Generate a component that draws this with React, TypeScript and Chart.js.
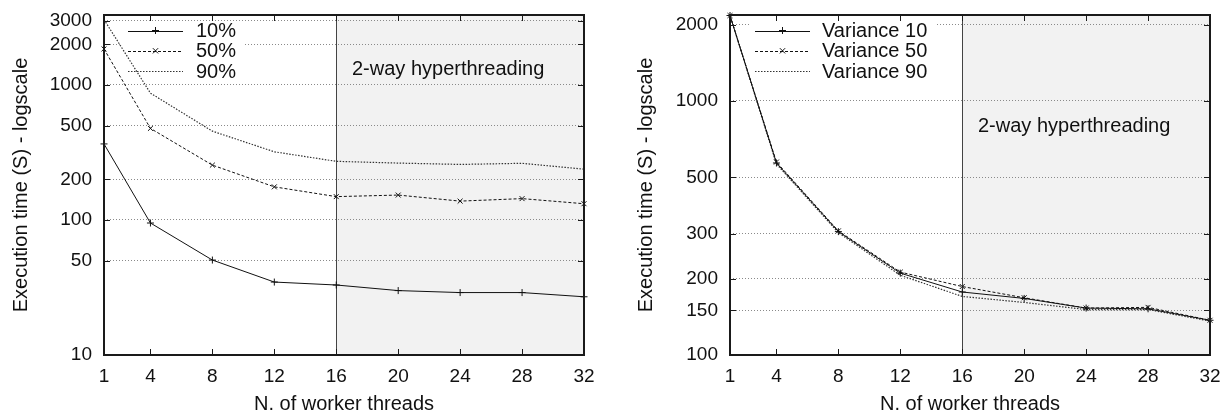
import React, { useEffect, useRef } from "react";
import { Chart, registerables } from "chart.js";

Chart.register(...registerables);

// ---------- data ----------
const threads = [1, 4, 8, 12, 16, 20, 24, 28, 32];
const xTicks = [1, 4, 8, 12, 16, 20, 24, 28, 32];

const leftLabels = ["10%", "50%", "90%"];
const left10 = [366, 95, 50.5, 34.7, 33, 30, 29, 29, 27];
const left50 = [1850, 477, 255, 176, 149, 153, 138, 144, 132];
const left90 = [3050, 870, 455, 320, 272, 264, 258, 263, 238];
const leftYTicks = [10, 50, 100, 200, 500, 1000, 2000, 3000];
const leftYMin = 10;
const leftYMax = 3300;

const rightLabels = ["Variance 10", "Variance 50", "Variance 90"];
const rightV10 = [2170, 570, 306, 210, 177, 167, 153, 152, 137];
const rightV50 = [2170, 575, 308, 212, 186, 168, 153, 154, 137];
const rightV90 = [2170, 565, 303, 206, 170, 161, 151, 151, 136];
const rightYTicks = [100, 150, 200, 300, 500, 1000, 2000];
const rightYMin = 100;
const rightYMax = 2180;

const htStart = 16;
const htEnd = 32;
const htLabel = "2-way hyperthreading";
const xTitle = "N. of worker threads";
const yTitle = "Execution time (S) - logscale";

const FONT = "'Liberation Sans', Arial, Helvetica, sans-serif";
const INK = "#111";
const FRAME = "#1a1a1a";

type PanelCfg = {
  width: number;
  yAxisWidth: number;
  padRight: number;
  yTitlePad: number;
  labels: string[];
  series: number[][];
  yTicks: number[];
  yMin: number;
  yMax: number;
  legendX: number;
  legendTextX: number;
  legendBox: [number, number, number, number];
  htLabelY: number;
};

const styles = [
  { dash: [] as number[], point: "cross", radius: 3.5, width: 1, color: INK },
  { dash: [3, 2], point: "crossRot", radius: 3.5, width: 1, color: INK },
  { dash: [1.5, 1.5], point: "circle", radius: 0, width: 1.2, color: "#333" },
];

function drawFrame(chart: any, yTicks: number[]) {
  const ctx = chart.ctx;
  const a = chart.chartArea;
  const xs = chart.scales.x;
  const ys = chart.scales.y;
  const L = Math.round(a.left);
  const R = Math.round(a.right);
  const T = Math.round(a.top);
  const B = Math.round(a.bottom);
  ctx.save();
  ctx.globalAlpha = 1;
  ctx.setLineDash([]);
  ctx.fillStyle = FRAME;
  xTicks.forEach((v) => {
    const px = Math.round(xs.getPixelForValue(v));
    ctx.fillRect(px, B - 6, 1, 6);
    ctx.fillRect(px, T, 1, 6);
  });
  yTicks.forEach((v) => {
    const py = Math.round(ys.getPixelForValue(v));
    ctx.fillRect(L, py, 6, 1);
    ctx.fillRect(R - 6, py, 6, 1);
  });
  ctx.fillRect(L - 1, T - 1, R - L + 2, 2);
  ctx.fillRect(L - 1, B - 1, R - L + 2, 2);
  ctx.fillRect(L - 1, T - 1, 2, B - T + 2);
  ctx.fillRect(R - 1, T - 1, 2, B - T + 2);
  ctx.restore();
}

function makeConfig(cfg: PanelCfg): any {
  const datasets = cfg.series.map((vals, i) => ({
    label: cfg.labels[i],
    data: threads.map((t, j) => ({ x: t, y: vals[j] })),
    borderColor: styles[i].color,
    backgroundColor: styles[i].color,
    borderWidth: styles[i].width,
    borderDash: styles[i].dash,
    pointStyle: styles[i].point,
    pointRadius: styles[i].radius,
    pointBorderWidth: 1,
    pointBorderColor: INK,
    tension: 0,
    clip: false,
  }));

  const framePlugin = {
    id: "frame",
    beforeDraw(chart: any) {
      const { ctx, chartArea: a, scales } = chart;
      const xs = scales.x;
      const x0 = xs.getPixelForValue(htStart);
      const x1 = xs.getPixelForValue(htEnd);
      ctx.save();
      ctx.fillStyle = "#f2f2f2";
      ctx.fillRect(x0, a.top, x1 - x0, a.bottom - a.top);
      ctx.restore();
    },
    beforeDatasetsDraw(chart: any) {
      const { ctx, chartArea: a, scales } = chart;
      const xs = scales.x;
      const x0 = Math.round(xs.getPixelForValue(htStart));
      ctx.save();
      ctx.globalAlpha = 1;
      ctx.setLineDash([]);
      ctx.fillStyle = "#444";
      ctx.fillRect(x0, a.top, 1, a.bottom - a.top);
      ctx.fillStyle = INK;
      ctx.font = `20px ${FONT}`;
      ctx.textAlign = "left";
      ctx.textBaseline = "middle";
      ctx.fillText(htLabel, x0 + 16, cfg.htLabelY);

      const [bx0, by0, bx1, by1] = cfg.legendBox;
      ctx.fillStyle = "#fff";
      ctx.fillRect(bx0, by0, bx1 - bx0, by1 - by0);
      ctx.font = `20px ${FONT}`;
      ctx.textBaseline = "middle";
      ctx.textAlign = "left";
      chart.data.datasets.forEach((ds: any, i: number) => {
        const y = 30.5 + i * 20.3;
        ctx.save();
        ctx.strokeStyle = ds.borderColor;
        ctx.lineWidth = ds.borderWidth;
        ctx.setLineDash(ds.borderDash || []);
        ctx.beginPath();
        ctx.moveTo(cfg.legendX, Math.round(y) + 0.5);
        ctx.lineTo(cfg.legendX + 55, Math.round(y) + 0.5);
        ctx.stroke();
        ctx.setLineDash([]);
        ctx.strokeStyle = INK;
        ctx.lineWidth = 1;
        const mx = cfg.legendX + 27.5;
        const r = ds.pointRadius;
        if (r > 0) {
          ctx.beginPath();
          if (ds.pointStyle === "cross") {
            ctx.moveTo(mx - r, y);
            ctx.lineTo(mx + r, y);
            ctx.moveTo(mx, y - r);
            ctx.lineTo(mx, y + r);
          } else {
            const d = r * 0.75;
            ctx.moveTo(mx - d, y - d);
            ctx.lineTo(mx + d, y + d);
            ctx.moveTo(mx - d, y + d);
            ctx.lineTo(mx + d, y - d);
          }
          ctx.stroke();
        }
        ctx.restore();
        ctx.fillStyle = INK;
        ctx.fillText(ds.label, cfg.legendTextX, y + 1);
      });
      ctx.restore();
    },
    afterDraw(chart: any) {
      drawFrame(chart, cfg.yTicks);
    },
  };

  return {
    type: "line",
    data: { datasets },
    plugins: [framePlugin],
    options: {
      animation: false,
      responsive: false,
      maintainAspectRatio: false,
      layout: { padding: { left: 0, right: cfg.padRight, top: 15, bottom: 0 } },
      plugins: { legend: { display: false }, tooltip: { enabled: false } },
      scales: {
        x: {
          type: "linear",
          min: 1,
          max: 32,
          afterBuildTicks: (s: any) => {
            s.ticks = xTicks.map((v) => ({ value: v }));
          },
          afterFit: (s: any) => {
            s.height = 61;
          },
          ticks: {
            color: INK,
            font: { family: FONT, size: 19 },
            padding: 0,
            maxRotation: 0,
            autoSkip: false,
            callback: (v: any) => String(v),
          },
          grid: {
            display: true,
            drawOnChartArea: false,
            drawTicks: true,
            tickLength: 10,
            tickColor: "rgba(0,0,0,0)",
            tickWidth: 1,
          },
          border: { display: false },
          title: {
            display: true,
            text: xTitle,
            color: INK,
            font: { family: FONT, size: 20 },
            padding: { top: 0, bottom: 0 },
          },
        },
        y: {
          type: "logarithmic",
          min: cfg.yMin,
          max: cfg.yMax,
          afterBuildTicks: (s: any) => {
            s.ticks = cfg.yTicks.map((v) => ({ value: v, major: true }));
          },
          afterFit: (s: any) => {
            s.width = cfg.yAxisWidth;
          },
          ticks: {
            color: INK,
            font: { family: FONT, size: 19 },
            padding: 0,
            autoSkip: false,
            callback: (v: any) => String(v),
          },
          grid: {
            color: "#8a8a8a",
            lineWidth: 1,
            drawTicks: true,
            tickLength: 12,
            tickColor: "rgba(0,0,0,0)",
            tickWidth: 1,
          },
          border: { display: false, dash: [1, 2] },
          title: {
            display: true,
            text: yTitle,
            color: INK,
            font: { family: FONT, size: 20 },
            padding: { top: cfg.yTitlePad, bottom: 0 },
          },
        },
      },
    },
  };
}

function Panel({ cfg, left }: { cfg: PanelCfg; left: number }) {
  const ref = useRef<HTMLCanvasElement | null>(null);
  useEffect(() => {
    if (!ref.current) return;
    const chart = new Chart(ref.current, makeConfig(cfg));
    return () => chart.destroy();
  }, [cfg]);
  return (
    <div style={{ position: "absolute", left, top: 0, width: cfg.width, height: 416 }}>
      <canvas ref={ref} width={cfg.width} height={416} style={{ width: cfg.width, height: 416, display: "block" }} />
    </div>
  );
}

const leftCfg: PanelCfg = {
  width: 600,
  yAxisWidth: 104,
  padRight: 16,
  yTitlePad: 9,
  labels: leftLabels,
  series: [left10, left50, left90],
  yTicks: leftYTicks,
  yMin: leftYMin,
  yMax: leftYMax,
  legendX: 128,
  legendTextX: 196,
  legendBox: [122, 22, 244, 81],
  htLabelY: 69,
};

const rightCfg: PanelCfg = {
  width: 622,
  yAxisWidth: 130,
  padRight: 12,
  yTitlePad: 34,
  labels: rightLabels,
  series: [rightV10, rightV50, rightV90],
  yTicks: rightYTicks,
  yMin: rightYMin,
  yMax: rightYMax,
  legendX: 155,
  legendTextX: 222,
  legendBox: [150, 19, 336, 81],
  htLabelY: 126,
};

export default function App() {
  return (
    <div style={{ position: "absolute", left: 0, top: 0, width: 1222, height: 416, background: "#fff" }}>
      <Panel cfg={leftCfg} left={0} />
      <Panel cfg={rightCfg} left={600} />
    </div>
  );
}
